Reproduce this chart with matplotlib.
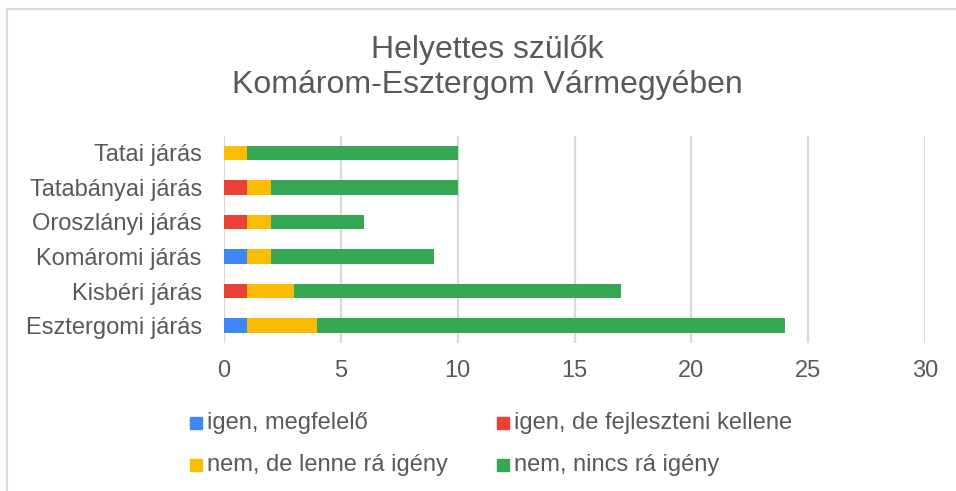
import matplotlib
matplotlib.use("Agg")
import matplotlib.pyplot as plt
from matplotlib.patches import Rectangle
from matplotlib.lines import Line2D

plt.rcParams['font.family'] = ['Liberation Sans', 'DejaVu Sans']

categories = ["Esztergomi járás", "Kisbéri járás", "Komáromi járás",
              "Oroszlányi járás", "Tatabányai járás", "Tatai járás"]
series_names = ["igen, megfelelő", "igen, de fejleszteni kellene",
                "nem, de lenne rá igény", "nem, nincs rá igény"]
igen_megfelelo = [1, 0, 1, 0, 0, 0]
igen_fejleszteni = [0, 1, 0, 1, 1, 0]
nem_lenne_igeny = [3, 2, 1, 1, 1, 1]
nem_nincs_igeny = [20, 14, 7, 4, 8, 9]
xticks = [0, 5, 10, 15, 20, 25, 30]

series_values = [igen_megfelelo, igen_fejleszteni, nem_lenne_igeny, nem_nincs_igeny]
colors = ["#4285F4", "#EA4335", "#FBBC04", "#34A853"]
text_color = "#595959"

W, H = 956, 491
fig = plt.figure(figsize=(W / 100, H / 100), dpi=100)
ax = fig.add_axes([224 / W, 1 - 343 / H, (925 - 224) / W, (343 - 135.5) / H])

y = list(range(len(categories)))
left = [0] * len(categories)
for name, vals, col in zip(series_names, series_values, colors):
    ax.barh(y, vals, left=left, height=0.42, color=col, label=name, zorder=3)
    left = [a + b for a, b in zip(left, vals)]

ax.set_xlim(0, 30)
ax.set_ylim(-0.5, len(categories) - 0.5)
ax.set_xticks(xticks)
ax.set_xticklabels([str(t) for t in xticks])
ax.set_yticks(y)
ax.set_yticklabels(categories)
ax.tick_params(axis='both', length=0, labelsize=17, labelcolor=text_color)
ax.tick_params(axis='x', pad=12)
ax.tick_params(axis='y', pad=16)
for s in ax.spines.values():
    s.set_visible(False)
ax.grid(axis='x', color="#d9d9d9", linewidth=1.6, zorder=0)
ax.set_axisbelow(True)

# Title
fig.text(487 / W, 1 - 50 / H, "Helyettes szülők", ha='center', va='center',
         fontsize=23, color=text_color)
fig.text(487 / W, 1 - 85 / H, "Komárom-Esztergom Vármegyében", ha='center', va='center',
         fontsize=23, color=text_color)

# Legend: two columns, two rows
legend_pos = [(190, 423), (497, 423), (190, 465), (497, 465)]
for (lx, ly), name, col in zip(legend_pos, series_names, colors):
    fig.patches.append(Rectangle((lx / W, 1 - (ly + 6) / H), 12 / W, 12 / H,
                                 transform=fig.transFigure, color=col))
    fig.text((lx + 17) / W, 1 - ly / H, name, ha='left', va='center',
             fontsize=17, color=text_color)

# Chart frame lines (top and left)
fig.add_artist(Line2D([7 / W, 1], [1 - 9 / H, 1 - 9 / H], transform=fig.transFigure,
                      color="#d9d9d9", linewidth=1.5))
fig.add_artist(Line2D([7 / W, 7 / W], [0, 1 - 9 / H], transform=fig.transFigure,
                      color="#d9d9d9", linewidth=1.5))

fig.savefig("out.png", dpi=100, facecolor="white")
